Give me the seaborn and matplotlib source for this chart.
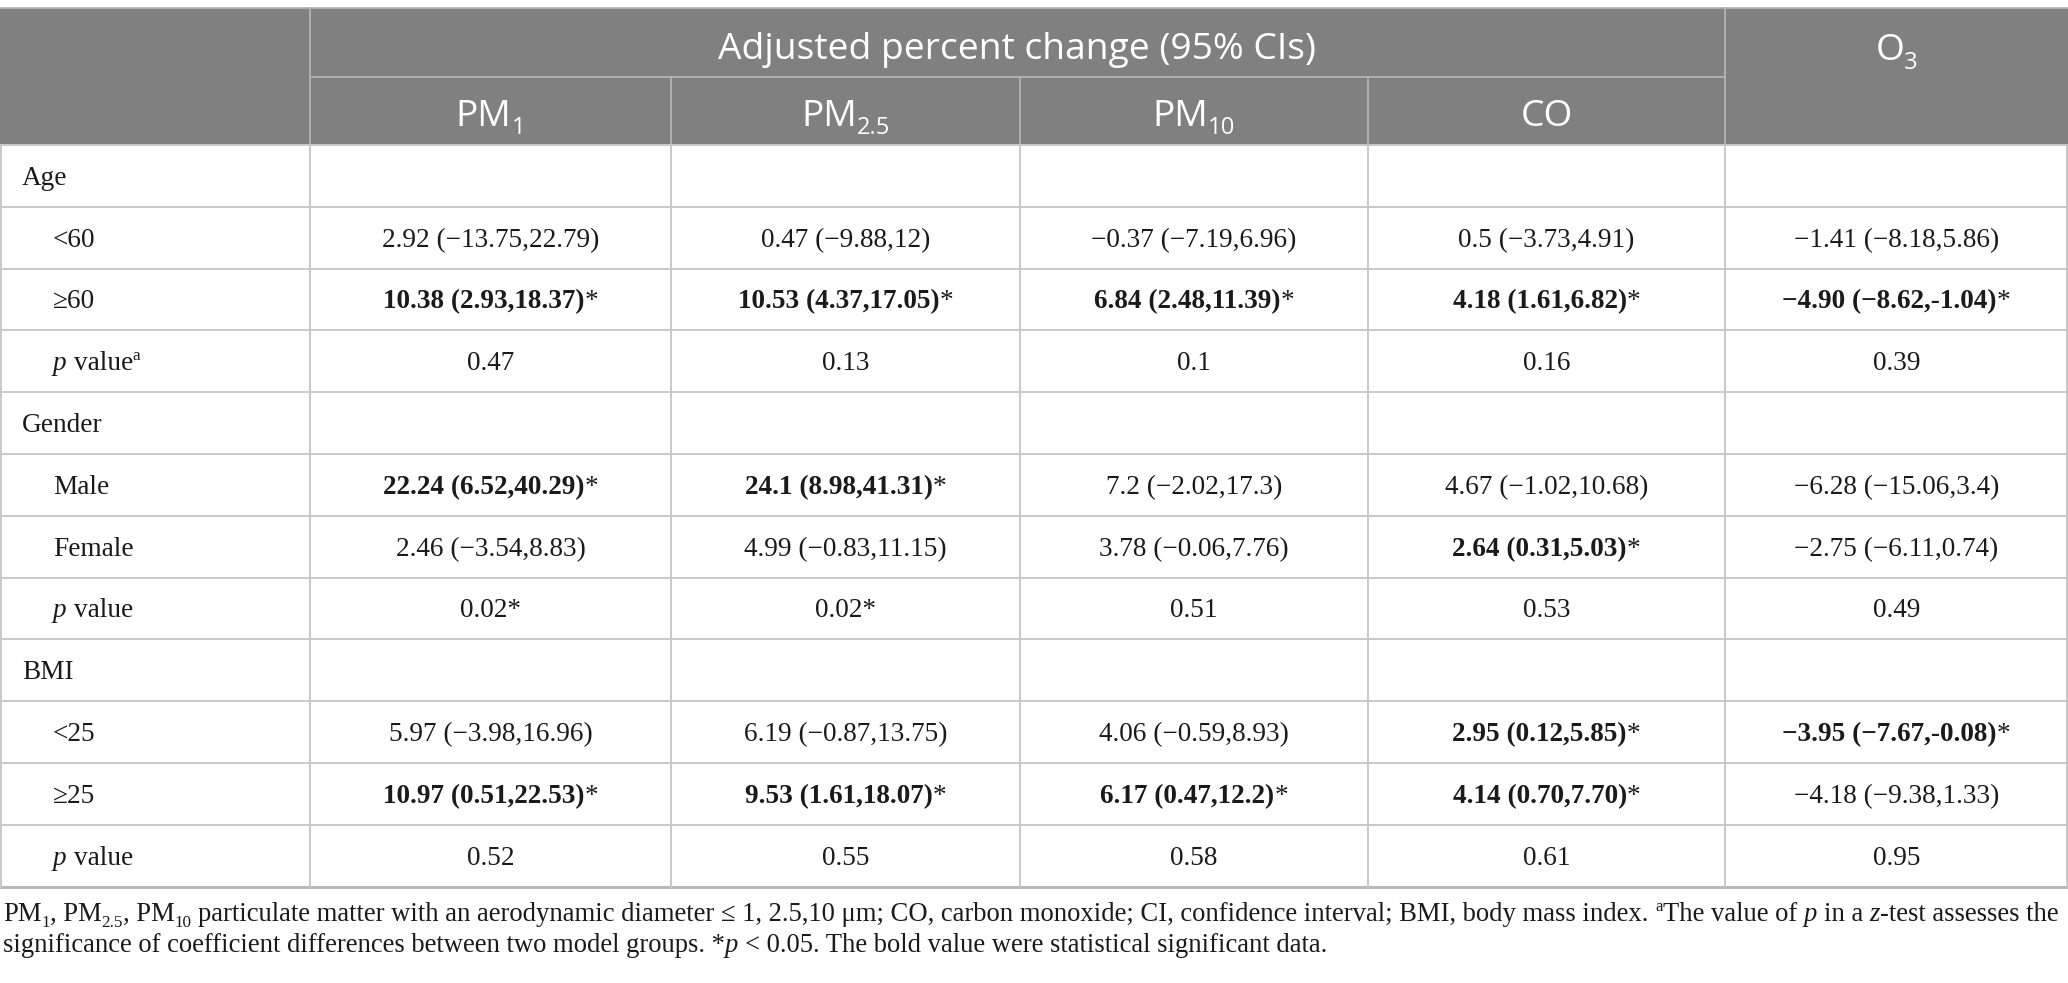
import matplotlib
matplotlib.use("Agg")
import matplotlib.pyplot as plt
from matplotlib.patches import Rectangle
import seaborn as sns

# table content
row_labels = ["Age", "<60", "≥60", "p value", "Gender", "Male", "Female", "p value",
              "BMI", "<25", "≥25", "p value"]
group_rows = [0, 4, 8]
pval_rows = [3, 7, 11]

pollutants = ["PM", "PM", "PM", "CO", "O"]
pollutant_subs = ["1", "2.5", "10", "", "3"]
span_title = "Adjusted percent change (95% CIs)"

pm1 = ["", "2.92 (−13.75,22.79)", "10.38 (2.93,18.37)*", "0.47",
       "", "22.24 (6.52,40.29)*", "2.46 (−3.54,8.83)", "0.02*",
       "", "5.97 (−3.98,16.96)", "10.97 (0.51,22.53)*", "0.52"]
pm25 = ["", "0.47 (−9.88,12)", "10.53 (4.37,17.05)*", "0.13",
        "", "24.1 (8.98,41.31)*", "4.99 (−0.83,11.15)", "0.02*",
        "", "6.19 (−0.87,13.75)", "9.53 (1.61,18.07)*", "0.55"]
pm10 = ["", "−0.37 (−7.19,6.96)", "6.84 (2.48,11.39)*", "0.1",
        "", "7.2 (−2.02,17.3)", "3.78 (−0.06,7.76)", "0.51",
        "", "4.06 (−0.59,8.93)", "6.17 (0.47,12.2)*", "0.58"]
co = ["", "0.5 (−3.73,4.91)", "4.18 (1.61,6.82)*", "0.16",
      "", "4.67 (−1.02,10.68)", "2.64 (0.31,5.03)*", "0.53",
      "", "2.95 (0.12,5.85)*", "4.14 (0.70,7.70)*", "0.61"]
o3 = ["", "−1.41 (−8.18,5.86)", "−4.90 (−8.62,-1.04)*", "0.39",
      "", "−6.28 (−15.06,3.4)", "−2.75 (−6.11,0.74)", "0.49",
      "", "−3.95 (−7.67,-0.08)*", "−4.18 (−9.38,1.33)", "0.95"]
columns = [pm1, pm25, pm10, co, o3]

sns.set_theme(style="white")
plt.rcParams['font.family'] = ['Liberation Serif', 'DejaVu Serif']

W, H = 2068, 983
col_x = [0, 310, 671, 1020, 1368, 1725, 2068]
top, h1, h2 = 8, 77, 145
row_h = 61.8
bottom = h2 + row_h * len(row_labels)

SERIF = ['Liberation Serif', 'DejaVu Serif']
SANS = ['Open Sans', 'DejaVu Sans']
HEAD_BG = '#808080'
GRID = '#c9c9c9'
TXT = '#1a1a1a'

fig = plt.figure(figsize=(W / 100, H / 100), dpi=100)
ax = fig.add_axes([0, 0, 1, 1])
ax.set_xlim(0, W)
ax.set_ylim(H, 0)
ax.axis('off')
renderer = fig.canvas.get_renderer()


def adv(s, kw):
    # advance width, sentinels keep the spaces
    t1 = ax.text(0, 0, '|' + s + '|', **kw)
    t2 = ax.text(0, 0, '||', **kw)
    w = t1.get_window_extent(renderer).width - t2.get_window_extent(renderer).width
    t1.remove()
    t2.remove()
    return w


def rich(x, y, pieces, family, size, color, ha='left', draw=True):
    items = []
    total = 0
    px = size * 100 / 72
    for txt, st in pieces:
        kw = dict(family=family, fontsize=size, color=color)
        dy = 0
        if st == 'b':
            kw['fontweight'] = 'bold'
        elif st == 'i':
            kw['fontstyle'] = 'italic'
        elif st == 'sub':
            kw['fontsize'] = size * 0.64
            dy = px * 0.22
        elif st == 'sup':
            kw['fontsize'] = size * 0.62
            dy = -px * 0.36
        lead = len(txt) - len(txt.lstrip(' '))
        if lead:
            total += adv(' ' * lead, kw)
            txt = txt.lstrip(' ')
        items.append((total, dy, txt, kw))
        total += adv(txt, kw)
    if draw:
        x0 = x - total / 2 if ha == 'center' else x
        for off, dy, txt, kw in items:
            ax.text(x0 + off, y + dy, txt, ha='left', va='baseline', **kw)
    return total


# header background
ax.add_patch(Rectangle((0, top), W, h2 - top, color=HEAD_BG, lw=0))

# header lines
hl = dict(color='#b4b4b4', lw=1.3)
ax.plot([0, W], [top, top], **hl)
ax.plot([col_x[1], col_x[5]], [h1, h1], **hl)
for i in [1, 5]:
    ax.plot([col_x[i], col_x[i]], [top, h2], **hl)
for i in [2, 3, 4]:
    ax.plot([col_x[i], col_x[i]], [h1, h2], **hl)

# header text
HS = 26.8
rich((col_x[1] + col_x[5]) / 2, (top + h1) / 2 + 16, [(span_title, 'r')], SANS, HS, 'white', 'center')
for i, (p, sub) in enumerate(zip(pollutants, pollutant_subs)):
    xc = (col_x[i + 1] + col_x[i + 2]) / 2
    yb = (h1 + h2) / 2 + 15 if i < 4 else (top + h1) / 2 + 18
    pieces = [(p, 'r')] + ([(sub, 'sub')] if sub else [])
    rich(xc, yb, pieces, SANS, HS, 'white', 'center')

# body grid
for r in range(len(row_labels) + 1):
    y = h2 + r * row_h
    ax.plot([0, W], [y, y], color=GRID if r < len(row_labels) else '#b9b9b9',
            lw=1.4 if r < len(row_labels) else 2.2)
for x in col_x:
    xx = min(max(x, 0.7), W - 0.7)
    ax.plot([xx, xx], [h2, bottom], color=GRID, lw=1.4)

BS = 19.6
for r, lab in enumerate(row_labels):
    yb = h2 + r * row_h + row_h / 2 + 9
    x_lab = 22 if r in group_rows else 53
    if r in pval_rows:
        pieces = [('p', 'i'), (' value', 'r')]
        if r == 3:
            pieces.append(('a', 'sup'))
    else:
        pieces = [(lab, 'r')]
    rich(x_lab, yb, pieces, SERIF, BS, TXT)
    for c, col in enumerate(columns):
        s = col[r]
        if not s:
            continue
        xc = (col_x[c + 1] + col_x[c + 2]) / 2
        if s.endswith(')*'):
            pieces = [(s[:-1], 'b'), ('*', 'r')]
        else:
            pieces = [(s, 'r')]
        rich(xc, yb, pieces, SERIF, BS, TXT, 'center')

# footnote
line1 = [("PM", 'r'), ("1", 'sub'), (", PM", 'r'), ("2.5", 'sub'), (", PM", 'r'), ("10", 'sub'),
         (" particulate matter with an aerodynamic diameter ≤ 1, 2.5,10 μm; CO, carbon monoxide; "
          "CI, confidence interval; BMI, body mass index. ", 'r'), ("a", 'sup'),
         ("The value of ", 'r'), ("p", 'i'), (" in a ", 'r'), ("z", 'i'), ("-test assesses the", 'r')]
line2 = [("significance of coefficient differences between two model groups. *", 'r'), ("p", 'i'),
         (" < 0.05. The bold value were statistical significant data.", 'r')]
fs = 16
w1 = rich(0, 0, line1, SERIF, fs, TXT, draw=False)
fs = fs * 2058 / w1
rich(3, 921, line1, SERIF, fs, TXT)
rich(3, 952, line2, SERIF, fs, TXT)

fig.savefig('out.png', dpi=100)
